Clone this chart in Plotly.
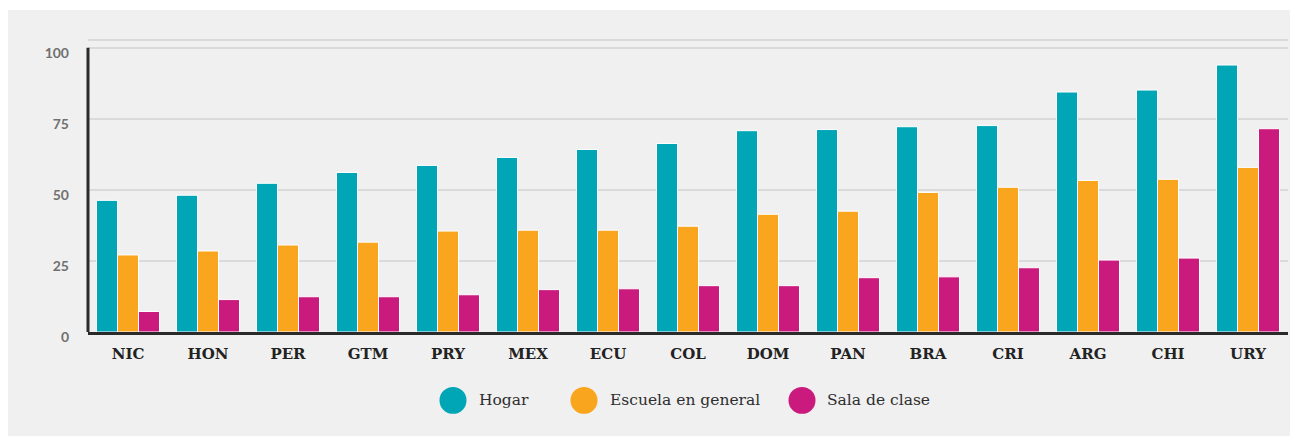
import plotly.graph_objects as go

countries = ["NIC", "HON", "PER", "GTM", "PRY", "MEX", "ECU", "COL", "DOM", "PAN", "BRA", "CRI", "ARG", "CHI", "URY"]
hogar = [46.3, 48.1, 52.3, 56.1, 58.6, 61.4, 64.2, 66.3, 70.8, 71.2, 72.2, 72.6, 84.4, 85.1, 93.9]
escuela = [27.1, 28.5, 30.6, 31.6, 35.5, 35.8, 35.8, 37.2, 41.4, 42.5, 49.1, 50.9, 53.3, 53.7, 57.9]
sala = [7.2, 11.4, 12.4, 12.4, 13.1, 14.9, 15.2, 16.3, 16.3, 19.1, 19.4, 22.6, 25.3, 26.0, 71.5]
series_names = ["Hogar", "Escuela en general", "Sala de clase"]
y_ticks = [0, 25, 50, 75, 100]

colors = ["#00a6b6", "#f9a61e", "#ca1a7d"]

W, H = 1290, 436
L, R, T, B = 88, 2, 40, 103.5
pw, ph = W - L - R, H - T - B


def px(x):
    return (x - L) / pw


def py(y):
    return (H - B - y) / ph


fig = go.Figure()
for name, vals, col in zip(series_names, [hogar, escuela, sala], colors):
    fig.add_trace(go.Bar(
        x=countries, y=vals, name=name,
        marker=dict(color=col, line=dict(color="white", width=1)),
        showlegend=False,
    ))

shapes = [
    # grey card background
    dict(type="rect", xref="paper", yref="paper", x0=px(8), x1=px(W + 5), y0=py(H + 5), y1=py(10),
         fillcolor="#f0f0f0", line=dict(width=0), layer="below"),
    # top border line
    dict(type="line", xref="paper", yref="paper", x0=0, x1=1, y0=1, y1=1,
         line=dict(color="#dadada", width=2), layer="below"),
    # y-axis dark line from 0 to 100
    dict(type="line", xref="paper", yref="y", x0=0, x1=0, y0=0, y1=100,
         line=dict(color="#2a2a2a", width=3)),
]

annotations = []
legend_circles = [453, 584, 802]
legend_texts = [477, 608, 825]
ly = 401
r = 13.5
for name, col, cx, tx in zip(series_names, colors, legend_circles, legend_texts):
    shapes.append(dict(type="circle", xref="paper", yref="paper",
                       x0=px(cx - r), x1=px(cx + r), y0=py(ly + r), y1=py(ly - r),
                       fillcolor=col, line=dict(width=0)))
    annotations.append(dict(xref="paper", yref="paper", x=px(tx), y=py(ly), text=name,
                            showarrow=False, xanchor="left", yanchor="middle",
                            font=dict(family="DejaVu Serif", size=15.5, color="#2e2e2e")))

fig.update_layout(
    width=W, height=H,
    margin=dict(l=L, r=R, t=T, b=B, autoexpand=False),
    paper_bgcolor="white",
    plot_bgcolor="#f0f0f0",
    barmode="group",
    bargap=0.2125,
    bargroupgap=0,
    showlegend=False,
    shapes=shapes,
    annotations=annotations,
    xaxis=dict(
        showgrid=False, showline=True, linecolor="#2a2a2a", linewidth=3,
        ticks="", tickfont=dict(family="DejaVu Serif", size=15, color="#222222", weight="bold"),
        ticklabelstandoff=6, zeroline=False,
    ),
    yaxis=dict(
        range=[0, 102.7], tickvals=y_ticks, ticktext=[str(v) for v in y_ticks],
        showgrid=True, gridcolor="#dadada", gridwidth=2, zeroline=False, showline=False,
        ticks="", tickfont=dict(family="Lato", size=14, color="#707070", weight="bold"),
        ticklabelstandoff=18, ticklabelshift=5,
    ),
)

fig.write_html("out.html", config={"displayModeBar": False},
               post_script="document.body.style.margin='0';document.body.style.overflow='hidden';")
